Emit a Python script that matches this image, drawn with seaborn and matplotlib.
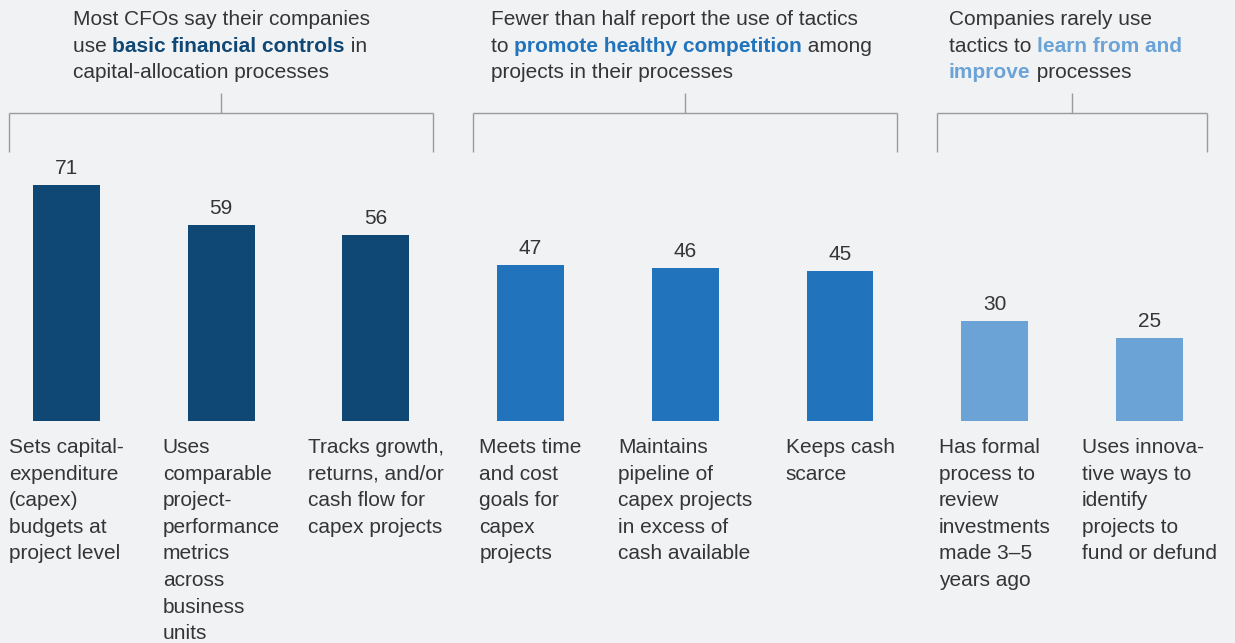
import matplotlib
matplotlib.use("Agg")
import matplotlib.pyplot as plt
from matplotlib.font_manager import FontProperties
from matplotlib.lines import Line2D
import seaborn as sns
import pandas as pd

# ---------------- data ----------------
category_lines = [
    ["Sets capital-", "expenditure", "(capex)", "budgets at", "project level"],
    ["Uses", "comparable", "project-", "performance", "metrics", "across", "business", "units"],
    ["Tracks growth,", "returns, and/or", "cash flow for", "capex projects"],
    ["Meets time", "and cost", "goals for", "capex", "projects"],
    ["Maintains", "pipeline of", "capex projects", "in excess of", "cash available"],
    ["Keeps cash", "scarce"],
    ["Has formal", "process to", "review", "investments", "made 3\u20135", "years ago"],
    ["Uses innova-", "tive ways to", "identify", "projects to", "fund or defund"],
]
values = [71, 59, 56, 47, 46, 45, 30, 25]
groups = ["controls", "controls", "controls",
          "competition", "competition", "competition",
          "improve", "improve"]
group_order = ["controls", "competition", "improve"]
group_colors = {"controls": "#0f4775", "competition": "#2174bc", "improve": "#6ba3d6"}

# headline: list of lines; each line is list of (text, bold?)
headlines = {
    "controls": [
        [("Most CFOs say their companies", False)],
        [("use ", False), ("basic financial controls", True), (" in", False)],
        [("capital-allocation processes", False)],
    ],
    "competition": [
        [("Fewer than half report the use of tactics", False)],
        [("to ", False), ("promote healthy competition", True), (" among", False)],
        [("projects in their processes", False)],
    ],
    "improve": [
        [("Companies rarely use", False)],
        [("tactics to ", False), ("learn from and", True)],
        [("improve", True), (" processes", False)],
    ],
}

# ---------------- layout constants ----------------
W, H = 1235, 643
BG = "#f1f2f4"
TEXT = "#353535"
LINE = "#9b9b9b"
FONT = "Liberation Sans"
FS = 15
x0_px, step_px = 66.5, 154.7      # bar 0 centre, spacing
base_px, unit_px = 421.0, 3.324   # bar baseline, px per unit
headline_left_px = {"controls": 73, "competition": 491, "improve": 949}

sns.set_theme(style="white")
plt.rcParams["font.family"] = [FONT, "DejaVu Sans"]

fig = plt.figure(figsize=(W / 100, H / 100), dpi=100, facecolor=BG)
ax = fig.add_axes([0, 0, 1, 1])
ax.set_facecolor(BG)

df = pd.DataFrame({
    "category": ["\n".join(l) for l in category_lines],
    "value": values,
    "group": groups,
})
sns.barplot(data=df, x="category", y="value", hue="group", hue_order=group_order,
            palette=group_colors, dodge=False, width=0.433, saturation=1,
            legend=False, ax=ax, linewidth=0, edgecolor="none")

ax.set_xlim(-x0_px / step_px, (W - x0_px) / step_px)
ax.set_ylim(-(H - base_px) / unit_px, base_px / unit_px)
ax.axis("off")

# value labels
for i, v in enumerate(values):
    ax.annotate(str(v), xy=(i, v), xytext=(0, 8), textcoords="offset points",
                ha="center", va="baseline", fontsize=FS, color=TEXT, family=FONT)

renderer = fig.canvas.get_renderer()
reg = FontProperties(family=FONT, size=FS)
bold = FontProperties(family=FONT, size=FS, weight="bold")


def text_w(s, prop):
    w1, _, _ = renderer.get_text_width_height_descent(s + "|", prop, ismath=False)
    w2, _, _ = renderer.get_text_width_height_descent("|", prop, ismath=False)
    return w1 - w2


def px(xpx, ypx):
    return xpx / W, 1 - ypx / H


def data_to_px_x(x):
    return x0_px + x * step_px


# category labels (block centred on bar, lines left-aligned)
lh = 26.6
for i, lines in enumerate(category_lines):
    cx = data_to_px_x(i)
    bw = max(text_w(l, reg) for l in lines)
    left = cx - bw / 2
    for k, l in enumerate(lines):
        fx, fy = px(left, 453 + k * lh)
        fig.text(fx, fy, l, fontproperties=reg, color=TEXT, ha="left", va="baseline")

# brackets and headlines
for g in group_order:
    idx = [i for i, gg in enumerate(groups) if gg == g]
    xl = data_to_px_x(min(idx) - 0.37)
    xr = data_to_px_x(max(idx) + 0.37)
    xm = (xl + xr) / 2
    y_h, y_b, y_t = 113, 152, 93
    for (xa, ya), (xb, yb) in [((xl, y_b), (xl, y_h)), ((xl, y_h), (xr, y_h)),
                               ((xr, y_h), (xr, y_b)), ((xm, y_h), (xm, y_t))]:
        (fa, ga), (fb, gb) = px(xa, ya), px(xb, yb)
        fig.add_artist(Line2D([fa, fb], [ga, gb], color=LINE, lw=1.0,
                              solid_capstyle="butt"))
    left = headline_left_px[g]
    for k, ln in enumerate(headlines[g]):
        x = left
        for t, b in ln:
            fx, fy = px(x, 25 + k * 26.5)
            fig.text(fx, fy, t, fontproperties=bold if b else reg,
                     color=group_colors[g] if b else TEXT, ha="left", va="baseline")
            x += text_w(t, bold if b else reg)

fig.savefig("out.png", dpi=100, facecolor=BG)
